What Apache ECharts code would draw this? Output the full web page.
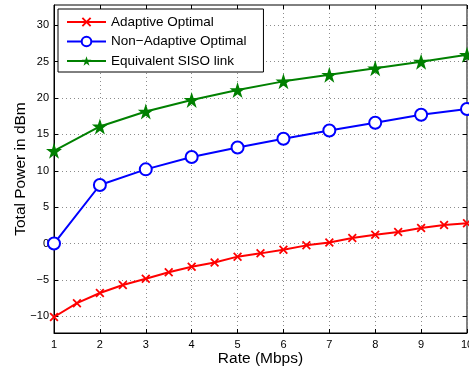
<!DOCTYPE html>
<html>
<head>
<meta charset="utf-8">
<script src="https://cdn.jsdelivr.net/npm/echarts@6/dist/echarts.min.js"></script>
<style>
  html, body { margin: 0; padding: 0; background: #fff; }
  #chart { width: 469px; height: 371px; }
</style>
</head>
<body>
<div id="chart"></div>
<script>
// rates (Mbps)
const rateInt = [1, 2, 3, 4, 5, 6, 7, 8, 9, 10]
const rateHalf = [1, 1.5, 2, 2.5, 3, 3.5, 4, 4.5, 5, 5.5, 6, 6.5, 7, 7.5, 8, 8.5, 9, 9.5, 10]

// total power in dBm
const adaptiveOptimal = [-10.1, -8.2, -6.8, -5.7, -4.85, -3.95, -3.2, -2.6, -1.8, -1.35, -0.85, -0.25, 0.15, 0.75, 1.2, 1.6, 2.15, 2.55, 2.8]
const nonAdaptiveOptimal = [0, 8.05, 10.2, 11.9, 13.2, 14.4, 15.55, 16.6, 17.7, 18.5]
const sisoLink = [12.75, 16.1, 18.15, 19.75, 21.1, 22.3, 23.2, 24.1, 25.0, 25.95]

const yTicks = [-10, -5, 0, 5, 10, 15, 20, 25, 30]

const FONT = '"Liberation Sans", Arial, Helvetica, sans-serif'
const STAR = 'path://M50,0 L61.8,35.5 L99,35.5 L69,57.5 L80.5,93 L50,71 L19.5,93 L31,57.5 L1,35.5 L38.2,35.5 Z'
const CROSS = 'path://M0,2.8 L2.8,0 L10,7.2 L17.2,0 L20,2.8 L12.8,10 L20,17.2 L17.2,20 L10,12.8 L2.8,20 L0,17.2 L7.2,10 Z'

const chart = echarts.init(document.getElementById('chart'), null, { renderer: 'canvas' })

const gridLine = { show: true, lineStyle: { color: '#8c8c8c', type: [1, 3], width: 1 } }
const tick = { show: true, inside: true, length: 4, lineStyle: { color: '#000' } }

const option = {
  animation: false,
  backgroundColor: '#fff',
  textStyle: { fontFamily: FONT },
  grid: {
    left: 54, right: 2, top: 5, bottom: 38,
    outerBoundsMode: 'none',
    containLabel: false,
    show: true, borderColor: '#000', borderWidth: 1, backgroundColor: 'transparent'
  },
  legend: {
    orient: 'vertical',
    left: 58,
    top: 9,
    padding: [6, 17, 4, 8],
    itemGap: 5.5,
    itemWidth: 39,
    itemHeight: 12,
    backgroundColor: '#fff',
    borderColor: '#000',
    borderWidth: 1,
    borderRadius: 0,
    textStyle: { fontFamily: FONT, fontSize: 13.5, color: '#000', lineHeight: 14 },
    data: ['Adaptive Optimal', 'Non\u2212Adaptive Optimal', 'Equivalent SISO link']
  },
  xAxis: [
    {
      type: 'value',
      min: 1,
      max: 10,
      interval: 1,
      name: 'Rate (Mbps)',
      nameLocation: 'middle',
      nameGap: 18,
      nameMoveOverlap: false,
      nameTextStyle: { fontFamily: FONT, fontSize: 15.5, color: '#000' },
      axisLine: { onZero: false, lineStyle: { color: '#000', width: 1 } },
      axisTick: tick,
      axisLabel: { fontFamily: FONT, fontSize: 11, color: '#000', margin: 6, showMinLabel: true, showMaxLabel: true, hideOverlap: false },
      splitLine: gridLine
    },
    {
      type: 'value',
      position: 'top',
      min: 1,
      max: 10,
      interval: 1,
      axisLine: { show: false, onZero: false },
      axisTick: tick,
      axisLabel: { show: false },
      splitLine: { show: false }
    }
  ],
  yAxis: [
    {
      type: 'value',
      min: -12.3,
      max: 32.8,
      name: 'Total Power in dBm',
      nameLocation: 'middle',
      nameGap: 25,
      nameMoveOverlap: false,
      nameTextStyle: { fontFamily: FONT, fontSize: 15.5, color: '#000' },
      axisLine: { show: true, onZero: false, lineStyle: { color: '#000', width: 1 } },
      axisTick: Object.assign({ customValues: yTicks }, tick),
      axisLabel: { fontFamily: FONT, fontSize: 11, color: '#000', margin: 5, customValues: yTicks, formatter: v => String(v).replace('-', '\u2212') },
      splitLine: gridLine
    },
    {
      type: 'value',
      position: 'right',
      min: -12.3,
      max: 32.8,
      axisLine: { show: false, onZero: false },
      axisTick: Object.assign({ customValues: yTicks }, tick),
      axisLabel: { show: false },
      splitLine: { show: false }
    }
  ],
  series: [
    {
      name: 'Adaptive Optimal',
      type: 'line',
      data: rateHalf.map((x, i) => [x, adaptiveOptimal[i]]),
      symbol: CROSS,
      symbolSize: 9,
      lineStyle: { color: '#ff0000', width: 2 },
      itemStyle: { color: '#ff0000' },
      z: 3
    },
    {
      name: 'Non\u2212Adaptive Optimal',
      type: 'line',
      data: rateInt.map((x, i) => [x, nonAdaptiveOptimal[i]]),
      symbol: 'emptyCircle',
      symbolSize: 12,
      lineStyle: { color: '#0000ff', width: 2 },
      itemStyle: { color: '#0000ff', borderColor: '#0000ff', borderWidth: 2 },
      z: 3
    },
    {
      name: 'Equivalent SISO link',
      type: 'line',
      data: rateInt.map((x, i) => [x, sisoLink[i]]),
      symbol: STAR,
      symbolSize: 16,
      lineStyle: { color: '#008000', width: 2 },
      itemStyle: { color: '#008000' },
      z: 3
    }
  ]
}

chart.setOption(option)
</script>
</body>
</html>
